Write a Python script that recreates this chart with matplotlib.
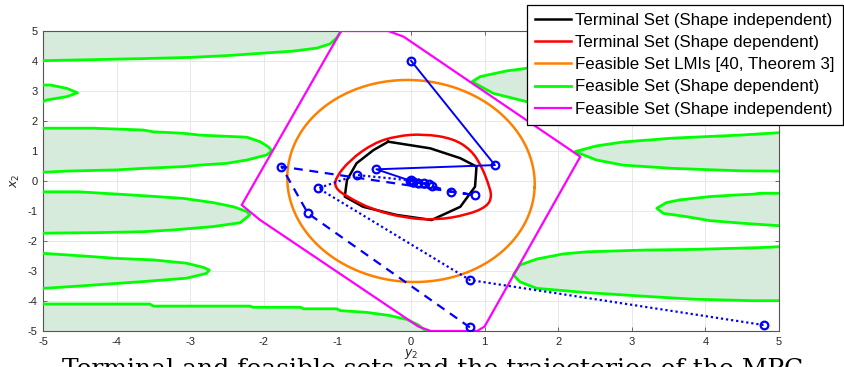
import matplotlib
matplotlib.use("Agg")
import matplotlib.pyplot as plt
from matplotlib.path import Path
from matplotlib.patches import PathPatch
import numpy as np

plt.rcParams['font.family'] = ['Liberation Sans', 'DejaVu Sans']
plt.rcParams['axes.unicode_minus'] = False

# ---------------- data ----------------
# Terminal set, shape independent (black)
term_ind_x = [-0.31, 0.26, 0.67, 0.89, 0.87, 0.67, 0.28, -0.20, -0.65, -0.90, -0.87, -0.74, -0.51, -0.31]
term_ind_y = [1.31, 1.09, 0.76, 0.48, -0.19, -0.86, -1.30, -1.13, -0.86, -0.52, 0.03, 0.59, 1.03, 1.31]

# Terminal set, shape dependent (red)
term_dep_x = [-1.03, -0.83, -0.51, -0.20, 0.17, 0.57, 0.82, 0.96, 1.05, 1.10, 1.03, 0.76, 0.35, -0.06, -0.51, -0.87, -1.03]
term_dep_y = [0.09, 0.70, 1.26, 1.50, 1.57, 1.42, 1.03, 0.48, -0.08, -0.52, -0.86, -1.13, -1.30, -1.24, -0.97, -0.52, -0.24]

# Feasible set LMIs (orange ellipse): semi-axis matrix
lmi_axes = [[1.68, 0.06], [-0.22, 3.36]]

# Feasible set, shape independent (magenta polygon)
feas_ind_x = [-0.95, -0.31, -0.10, 2.30, 1.00, 0.90, 0.27, 0.10, -2.05, -2.30, -0.95]
feas_ind_y = [5.00, 5.00, 4.81, 0.81, -4.85, -5.00, -5.00, -4.85, -1.30, -0.80, 5.00]

# Feasible set, shape dependent (green): boundaries of excluded regions
regA_x = [-5.0, -4.63, -3.64, -3.00, -2.50, -1.96, -1.60, -1.28, -1.10, -1.01, -0.95]
regA_y = [4.01, 4.03, 4.08, 4.12, 4.18, 4.27, 4.33, 4.43, 4.57, 4.77, 5.00]
regB_x = [-5.0, -4.90, -4.68, -4.53, -4.68, -4.95, -5.0]
regB_y = [3.20, 3.20, 3.09, 2.94, 2.81, 2.70, 2.64]
regC_x = [-5.0, -4.32, -3.64, -3.50, -3.09, -2.87, -2.60, -2.23, -2.05, -1.94, -1.89,
          -1.96, -2.23, -2.50, -2.87, -3.09, -3.64, -4.00, -4.68, -5.0]
regC_y = [1.76, 1.76, 1.70, 1.64, 1.59, 1.53, 1.50, 1.46, 1.31, 1.14, 1.01,
          0.87, 0.70, 0.59, 0.53, 0.48, 0.42, 0.37, 0.33, 0.29]
regD_x = [-5.0, -4.52, -4.04, -3.64, -3.09, -2.69, -2.41, -2.23, -2.19, -2.32, -2.69, -3.23, -3.64, -4.23, -5.0]
regD_y = [-0.36, -0.36, -0.43, -0.49, -0.58, -0.72, -0.86, -1.02, -1.13, -1.39, -1.52, -1.63, -1.69, -1.72, -1.74]
regE_x = [-5.0, -4.45, -4.00, -3.50, -3.05, -2.82, -2.74, -2.78, -3.05, -3.68, -4.50, -5.0]
regE_y = [-2.41, -2.50, -2.58, -2.63, -2.74, -2.88, -2.97, -3.08, -3.24, -3.36, -3.50, -3.58]
regF_x = [-5.0, -3.55, -3.50, -2.19, -2.14, -1.50, -1.46, -1.01, -0.96, -0.60, -0.30, -0.05, 0.10, 0.20]
regF_y = [-4.10, -4.10, -4.17, -4.17, -4.21, -4.21, -4.26, -4.26, -4.32, -4.38, -4.48, -4.62, -4.80, -5.00]
regG_x = [5.0, 4.74, 4.65, 4.38, 4.06, 3.65, 3.47, 3.34, 3.43, 3.75, 4.06, 4.51, 5.0]
regG_y = [-0.41, -0.41, -0.44, -0.47, -0.52, -0.63, -0.72, -0.91, -1.08, -1.19, -1.32, -1.41, -1.49]
regH_x = [5.0, 4.74, 3.84, 3.20, 2.39, 2.07, 1.71, 1.48, 1.39, 1.48, 1.71, 2.39, 3.29, 3.84, 4.65, 5.0]
regH_y = [-2.19, -2.22, -2.28, -2.30, -2.36, -2.43, -2.60, -2.80, -3.13, -3.36, -3.58, -3.72, -3.86, -3.94, -3.99, -3.99]
regI_x = [5.0, 4.47, 3.56, 2.88, 2.52, 2.23, 2.52, 2.88, 3.56, 4.47, 5.0]
regI_y = [1.61, 1.53, 1.43, 1.30, 1.17, 0.98, 0.70, 0.53, 0.42, 0.34, 0.33]
regJ_x = [5.0, 2.50, 1.58, 1.30, 0.94, 0.83, 1.12, 1.58, 2.50, 5.0]
regJ_y = [4.00, 3.90, 3.76, 3.67, 3.48, 3.31, 2.92, 2.64, 2.55, 2.50]

# Closed-loop trajectories (blue)
traj_solid_x = [0.00, 1.14, -0.47, -0.01, 0.03, 0.01]
traj_solid_y = [4.01, 0.53, 0.39, 0.01, -0.02, 0.00]
traj_dash_x = [0.80, -1.40, -1.76, 0.87, 0.55, 0.28, 0.17, 0.10, 0.03]
traj_dash_y = [-4.88, -1.08, 0.48, -0.47, -0.36, -0.17, -0.08, -0.06, -0.02]
traj_dot_x = [4.79, 0.80, -1.26, -0.74, 0.00, 0.24, 0.10, 0.03]
traj_dot_y = [-4.80, -3.30, -0.24, 0.20, 0.02, -0.10, -0.06, -0.02]

x_ticks = [-5, -4, -3, -2, -1, 0, 1, 2, 3, 4, 5]
y_ticks = [-5, -4, -3, -2, -1, 0, 1, 2, 3, 4, 5]

legend_labels = ['Terminal Set (Shape independent)', 'Terminal Set (Shape dependent)',
                 'Feasible Set LMIs [40, Theorem 3]', 'Feasible Set (Shape dependent)',
                 'Feasible Set (Shape independent)']
x_label = '$y_2$'
y_label = '$x_2$'
caption = 'Terminal and feasible sets and the trajectories of the MPC'

# ---------------- figure ----------------
W, H = 844, 367
fig = plt.figure(figsize=(W / 100, H / 100), dpi=100)
ax = fig.add_axes([43 / W, 1 - 331 / H, (779 - 43) / W, 300 / H])

GREEN = (0, 1, 0)
FILL = (0.84, 0.92, 0.86)

regions = [
    (regA_x, regA_y, [(-5.0, 5.0)]),
    (regB_x, regB_y, []),
    (regC_x, regC_y, []),
    (regD_x, regD_y, []),
    (regE_x, regE_y, []),
    (regF_x, regF_y, [(-5.0, -5.0)]),
    (regG_x, regG_y, []),
    (regH_x, regH_y, []),
    (regI_x, regI_y, []),
    (regJ_x, regJ_y, []),
]
first = True
for rx, ry, extra in regions:
    px = list(rx) + [p[0] for p in extra]
    py = list(ry) + [p[1] for p in extra]
    ax.fill(px, py, color=FILL, lw=0, zorder=1)
    ax.plot(rx, ry, color=GREEN, lw=2.0, zorder=3,
            label=legend_labels[3] if first else None)
    first = False

# magenta
ax.plot(feas_ind_x, feas_ind_y, color=(1, 0, 1), lw=1.6, zorder=4, label=legend_labels[4])

# orange ellipse
t = np.linspace(0, 2 * np.pi, 300)
A = np.array(lmi_axes)
E = A @ np.vstack([np.cos(t), np.sin(t)])
ax.plot(E[0], E[1], color=(1, 0.5, 0), lw=1.8, zorder=4, label=legend_labels[2])

# black terminal set (polyline through read points)
ax.plot(term_ind_x, term_ind_y, color='black', lw=1.8, zorder=5, label=legend_labels[0])


# red terminal set: smooth closed curve with the read points as quadratic Bezier controls
def smooth_closed_path(xs, ys):
    P = np.column_stack([xs, ys])
    n = len(P)
    mids = (P + np.roll(P, -1, axis=0)) / 2
    verts = [mids[-1]]
    codes = [Path.MOVETO]
    for i in range(n):
        verts += [P[i], mids[i]]
        codes += [Path.CURVE3, Path.CURVE3]
    return Path(verts, codes)


ax.add_patch(PathPatch(smooth_closed_path(term_dep_x, term_dep_y), fill=False,
                       edgecolor=(1, 0, 0), lw=1.8, zorder=5))
ax.plot([], [], color=(1, 0, 0), lw=1.8, label=legend_labels[1])

mk = dict(marker='o', markersize=5.5, mfc='none', mec=(0, 0, 1), mew=1.6, color=(0, 0, 1), zorder=6)
ax.plot(traj_solid_x, traj_solid_y, lw=1.4, ls='-', **mk)
ax.plot(traj_dash_x, traj_dash_y, lw=1.6, ls=(0, (4, 3)), **mk)
ax.plot(traj_dot_x, traj_dot_y, lw=1.6, ls=(0, (1, 1.3)), **mk)

ax.set_xlim(-5, 5)
ax.set_ylim(-5, 5)
ax.set_xticks(x_ticks)
ax.set_yticks(y_ticks)
ax.tick_params(direction='in', length=3, width=0.6, colors='#555555', labelcolor='#262626',
               labelsize=8, pad=4, top=True, right=True, labeltop=False, labelright=False)
ax.grid(True, color='#e4e4e4', lw=0.6, ls='-')
ax.set_axisbelow(True)
for s in ax.spines.values():
    s.set_color('#555555')
    s.set_linewidth(0.8)
ax.set_xlabel(x_label, fontsize=9, labelpad=0, color='#262626')
ax.set_ylabel(y_label, fontsize=9, labelpad=4, color='#262626')

# legend
h, l = ax.get_legend_handles_labels()
order = [legend_labels.index(x) for x in l]
pairs = sorted(zip(order, h, l))
leg = ax.legend([p[1] for p in pairs], [p[2] for p in pairs],
                loc='upper right', bbox_to_anchor=(843 / W, 1 - 5 / H),
                bbox_transform=fig.transFigure, fontsize=12.2, frameon=True, fancybox=False,
                framealpha=1, edgecolor='black', borderpad=0.48, labelspacing=0.42,
                handlelength=2.15, handletextpad=0.25, borderaxespad=0)
leg.get_frame().set_linewidth(0.9)
leg.set_zorder(20)

# caption, clipped by the bottom edge as in the reference
fig.text(62 / W, 1 - 358 / H, caption, fontsize=18, family='DejaVu Serif', va='top', ha='left')

fig.savefig('out.png', dpi=100)
